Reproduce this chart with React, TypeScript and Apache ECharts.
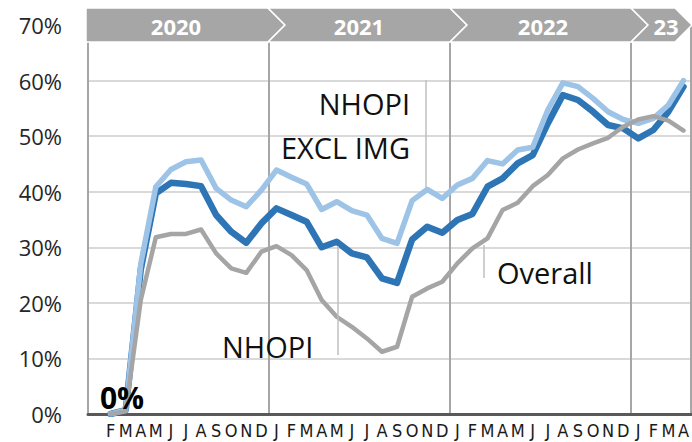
import React, { useEffect, useRef } from "react";
import * as echarts from "echarts";

const monthLabels = [
  "", "F", "M", "A", "M", "J", "J", "A", "S", "O", "N", "D",
  "J", "F", "M", "A", "M", "J", "J", "A", "S", "O", "N", "D",
  "J", "F", "M", "A", "M", "J", "J", "A", "S", "O", "N", "D",
  "J", "F", "M", "A",
];

const nhopi = [
  null, 0, 0.7, 26, 39.7, 41.6, 41.4, 41, 35.8, 32.8, 30.8, 34.3,
  37, 35.8, 34.6, 30, 31, 28.9, 28.2, 24.4, 23.6, 31.4, 33.7, 32.6,
  34.9, 36, 40.9, 42.4, 45.1, 46.6, 52.3, 57.4, 56.5, 54.4, 52, 51.4,
  49.6, 51.1, 54.4, 58.9,
];

const nhopiExclImg = [
  null, 0, 0.7, 27, 40.9, 44, 45.4, 45.7, 40.6, 38.5, 37.3, 40.3,
  43.9, 42.6, 41.4, 36.8, 38.2, 36.6, 35.8, 31.6, 30.7, 38.4, 40.4, 38.8,
  41.2, 42.4, 45.6, 45, 47.5, 48, 54.7, 59.6, 58.9, 56.8, 54.4, 53,
  52.3, 53.2, 55.6, 60,
];

const overall = [
  null, 0, 0.5, 20.5, 31.8, 32.4, 32.4, 33.2, 28.9, 26.2, 25.4, 29.2,
  30.2, 28.6, 25.9, 20.5, 17.5, 15.7, 13.6, 11.2, 12.1, 21.1, 22.6, 23.8,
  27.1, 29.8, 31.6, 36.7, 38, 41, 43, 46, 47.6, 48.7, 49.7, 51.7,
  53, 53.6, 52.8, 51,
];

const yearLabels = ["2020", "2021", "2022", "23"];

export default function App() {
  const ref = useRef<HTMLDivElement>(null);

  useEffect(() => {
    if (!ref.current) return;
    const chart = echarts.init(ref.current, undefined, { renderer: "svg" });

    const bandTop = 8;
    const bandBot = 42;
    const mid = (bandTop + bandBot) / 2;
    const tip = 17;
    const segs = [
      [86, 268],
      [268, 450],
      [450, 631],
      [631, 675],
    ];
    const textX = [176, 359, 543, 666];
    const bandColor = "#a6a6a6";

    const headerEls: any[] = [];
    segs.forEach(([x0, x1], i) => {
      const pts: number[][] = [
        [x0, bandTop],
        [x1, bandTop],
        [x1 + tip, mid],
        [x1, bandBot],
        [x0, bandBot],
      ];
      if (i > 0) pts.push([x0 + tip, mid]);
      headerEls.push({
        type: "polygon",
        shape: { points: pts },
        style: { fill: bandColor, stroke: "#ffffff", lineWidth: 1.5 },
        z: 100,
      });
    });
    yearLabels.forEach((t, i) => {
      headerEls.push({
        type: "text",
        x: textX[i],
        y: mid + 1,
        style: {
          text: t,
          fill: "#ffffff",
          font: "bold 22px 'Open Sans', 'Noto Sans', sans-serif",
          align: "center",
          verticalAlign: "middle",
        },
        z: 101,
      });
    });

    const annFont = "29px 'Open Sans', 'Noto Sans', sans-serif";
    const leader = { stroke: "#bfbfbf", lineWidth: 1.5 };
    const annotations: any[] = [
      { type: "line", shape: { x1: 426, y1: 80, x2: 426, y2: 188 }, style: leader, z: 50 },
      { type: "line", shape: { x1: 338, y1: 246, x2: 338, y2: 355 }, style: leader, z: 50 },
      { type: "line", shape: { x1: 484, y1: 245, x2: 484, y2: 278 }, style: leader, z: 50 },
      {
        type: "text", x: 410, y: 103,
        style: { text: "NHOPI", font: annFont, fill: "#111", align: "right", verticalAlign: "middle" },
        z: 60,
      },
      {
        type: "text", x: 410, y: 147,
        style: { text: "EXCL IMG", font: annFont, fill: "#111", align: "right", verticalAlign: "middle" },
        z: 60,
      },
      {
        type: "text", x: 222, y: 346,
        style: { text: "NHOPI", font: annFont, fill: "#111", align: "left", verticalAlign: "middle" },
        z: 60,
      },
      {
        type: "text", x: 497, y: 272,
        style: { text: "Overall", font: annFont, fill: "#111", align: "left", verticalAlign: "middle" },
        z: 60,
      },
      {
        type: "text", x: 122, y: 397,
        style: { text: "0%", font: "bold 30px 'Open Sans', 'Noto Sans', sans-serif", fill: "#000", align: "center", verticalAlign: "middle" },
        z: 60,
      },
    ];

    const lineSeries = (name: string, data: (number | null)[], color: string, width: number, z: number) => ({
      name,
      type: "line",
      data,
      symbol: "none",
      z,
      lineStyle: { color, width, cap: "round", join: "round" },
      itemStyle: { color },
      connectNulls: false,
    });

    chart.setOption({
      animation: false,
      backgroundColor: "#ffffff",
      grid: { left: 88, right: 0, top: 25, bottom: 28, containLabel: false },
      xAxis: {
        type: "category",
        data: monthLabels,
        boundaryGap: true,
        axisLine: { show: true, lineStyle: { color: "#595959", width: 3 } },
        axisTick: { show: false },
        axisLabel: {
          interval: 0,
          margin: 8,
          lineHeight: 17,
          color: "#1a1a1a",
          fontSize: 18,
          fontFamily: "'Liberation Sans Narrow', 'DejaVu Sans Condensed', 'Liberation Sans', sans-serif",
        },
        splitLine: {
          show: true,
          interval: (idx: number) => idx % 12 === 0,
          lineStyle: { color: "#a6a6a6", width: 2 },
        },
      },
      yAxis: {
        type: "value",
        min: 0,
        max: 70,
        interval: 10,
        axisLine: { show: true, lineStyle: { color: "#a6a6a6", width: 2 } },
        axisTick: { show: false },
        axisLabel: {
          margin: 26,
          color: "#262626",
          fontSize: 22,
          fontFamily: "'Open Sans', 'Noto Sans', sans-serif",
          formatter: (v: number) => `${v}%`,
        },
        splitLine: { show: true, lineStyle: { color: "#d9d9d9", width: 2 } },
      },
      series: [
        lineSeries("NHOPI", nhopi, "#2e75b6", 6.5, 2),
        lineSeries("NHOPI EXCL IMG", nhopiExclImg, "#9dc3e6", 5.5, 3),
        lineSeries("Overall", overall, "#a5a5a5", 4.5, 4),
      ],
      graphic: { elements: [...annotations, ...headerEls] },
    });

    return () => chart.dispose();
  }, []);

  return (
    <div
      ref={ref}
      style={{ position: "absolute", left: 0, top: 0, width: 692, height: 442 }}
    />
  );
}
